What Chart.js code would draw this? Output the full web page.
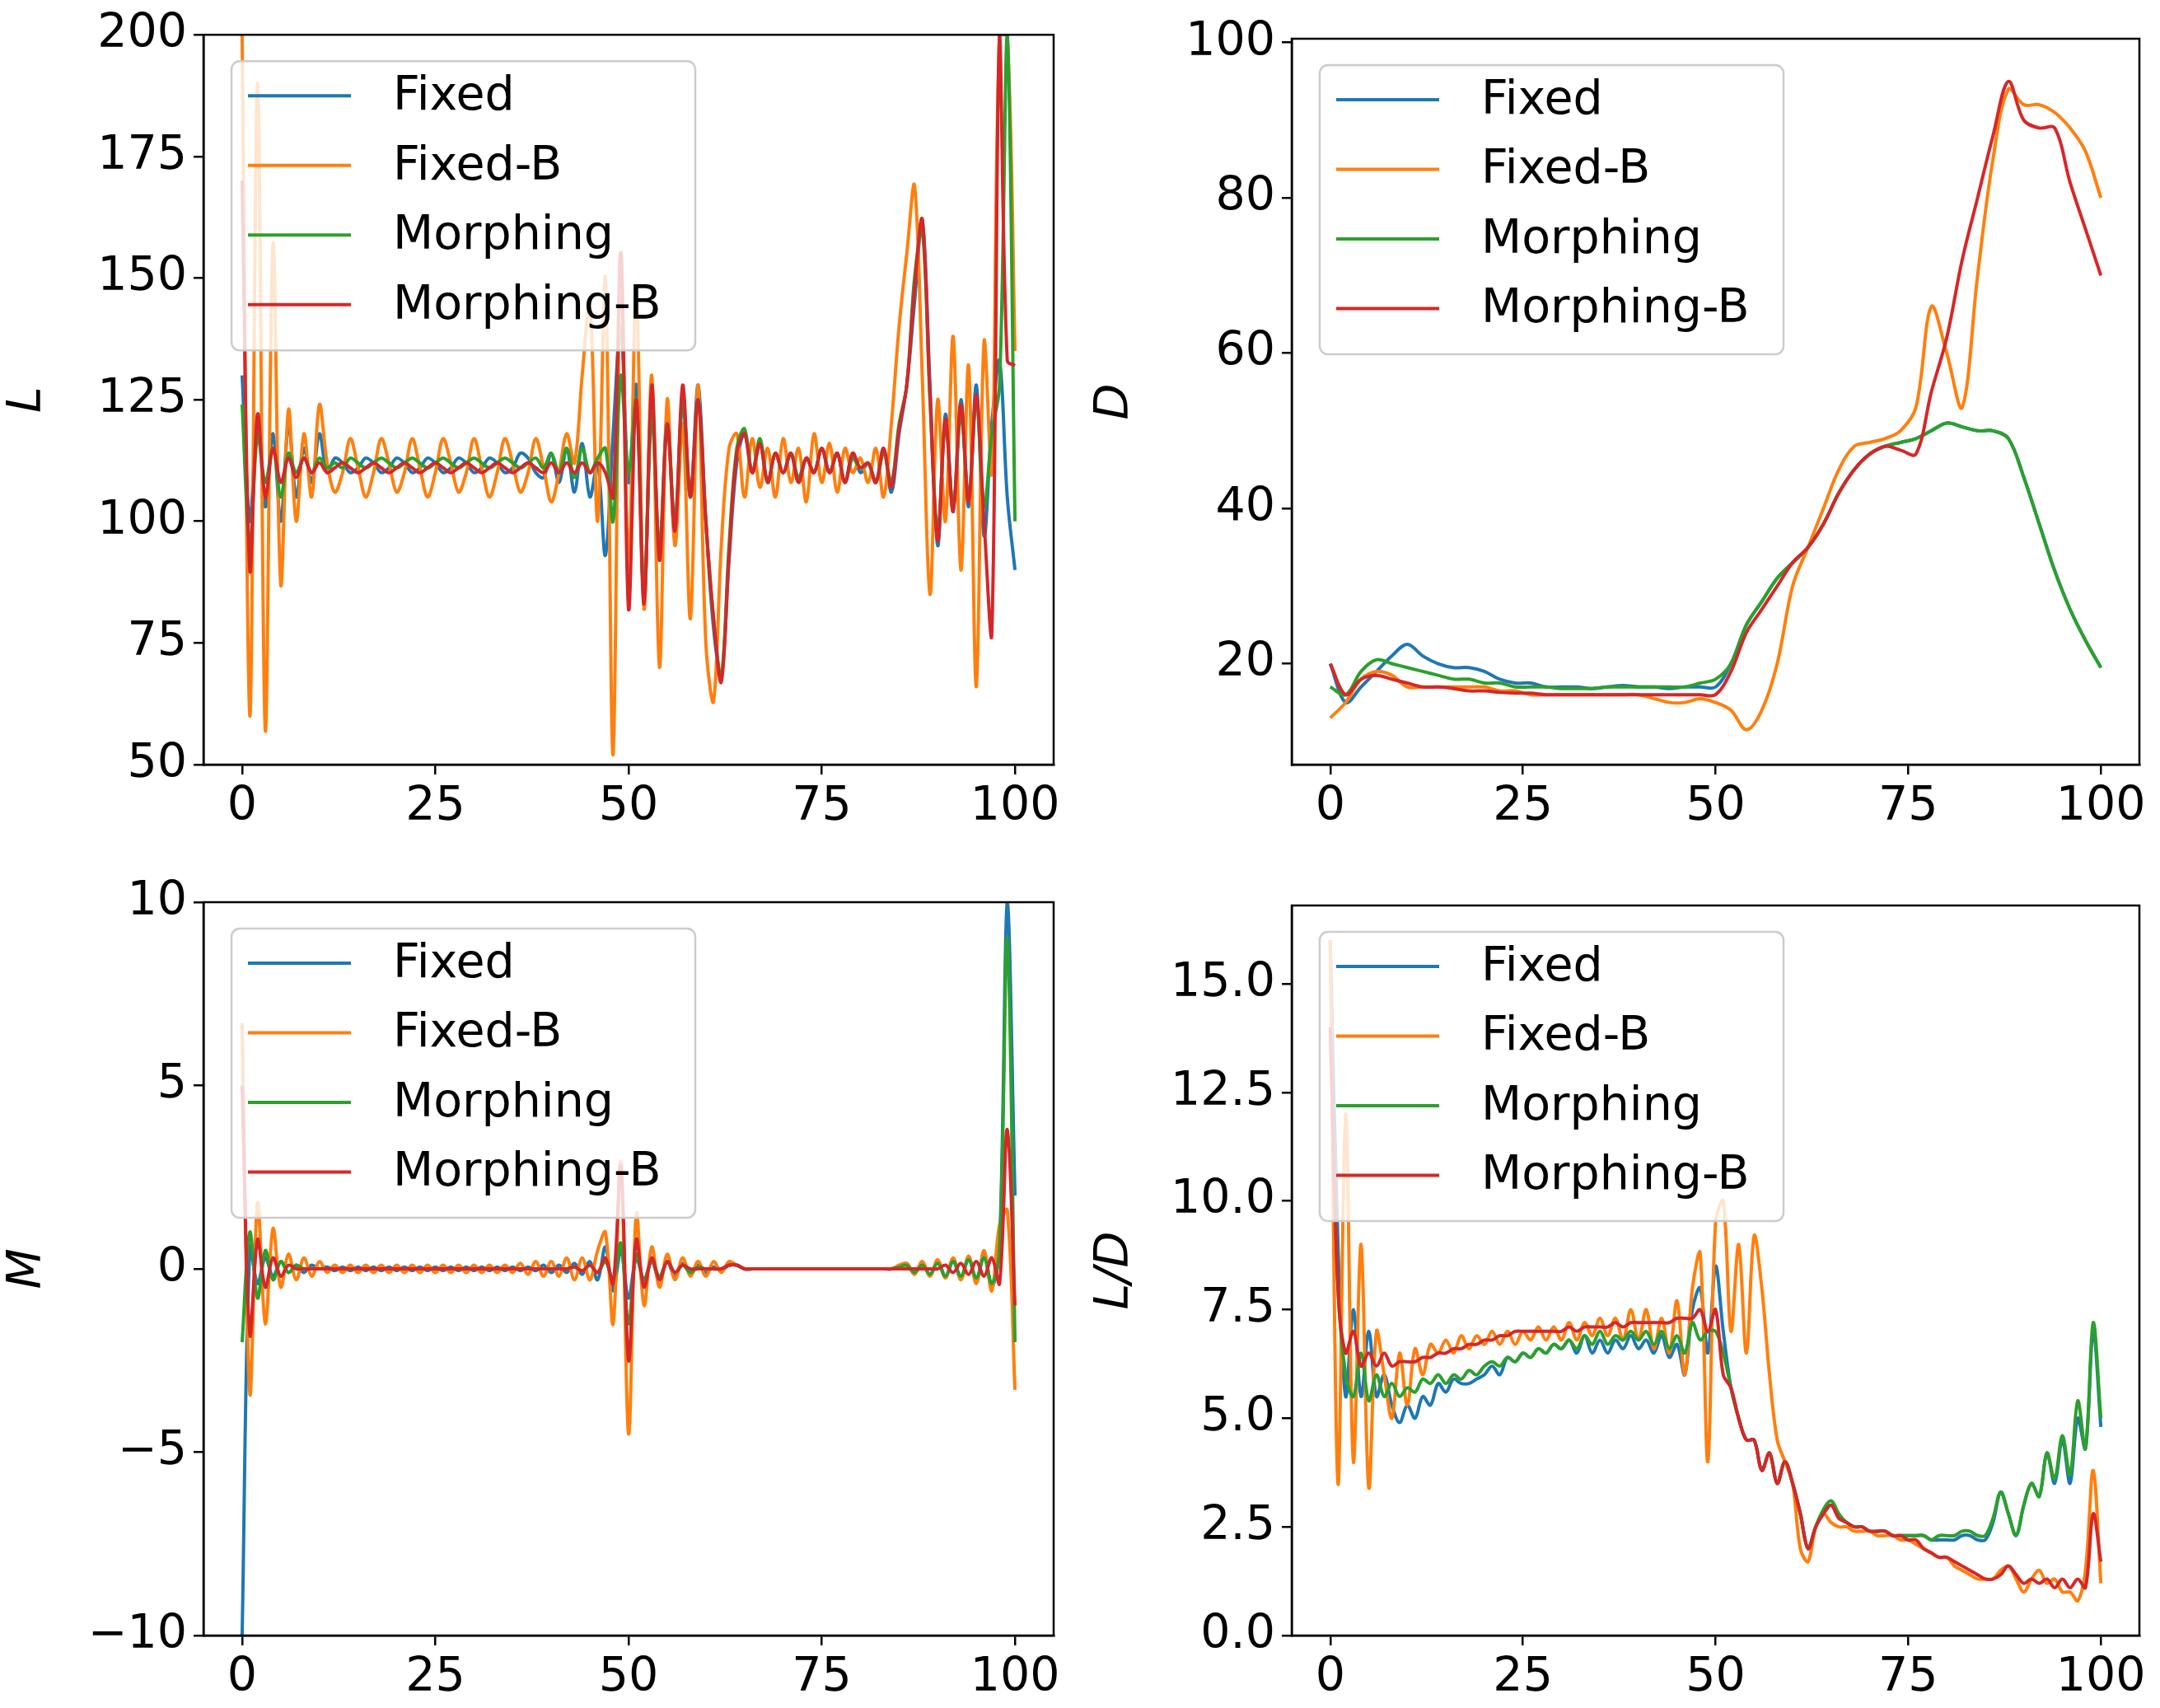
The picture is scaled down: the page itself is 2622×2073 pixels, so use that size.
<!DOCTYPE html>
<html><head><meta charset="utf-8">
<script src="https://cdn.jsdelivr.net/npm/chart.js@4"></script>
<style>body{margin:0;background:#fff;width:2622px;height:2073px;position:relative;overflow:hidden}canvas{position:absolute}</style>
</head><body>
<canvas id="c1"></canvas><canvas id="c2"></canvas><canvas id="c3"></canvas><canvas id="c4"></canvas>
<script>
const labels = ["Fixed","Fixed-B","Morphing","Morphing-B"];
const colors = ["#1f77b4","#ff7f0e","#2ca02c","#d62728"];
const xStep1 = Array.from({length:101},(_,i)=>i);
const xStep2 = Array.from({length:51},(_,i)=>i*2);
const xTicks = [0,25,50,75,100];

const L_fixed=[130,100,122,103,118,100,120,105,115,108,118,
110,113,112,110,111,113,112,110,111,113,
112,110,111,113,112,110,111,113,112,110,
111,113,112,110,111,114,113,110,109,114,
108,115,106,116,105,112,93,118,140,108,
128,85,125,92,122,97,125,105,128,100,
78,68,92,112,118,110,116,108,114,110,
114,108,113,110,115,110,114,108,114,110,
112,108,115,106,118,128,145,162,128,95,
122,102,125,103,128,97,120,133,105,90];
const L_fixedB=[200,60,190,57,157,87,123,100,118,105,124,
112,106,110,117,111,105,110,117,112,106,
110,117,111,105,110,117,112,106,110,117,
111,105,110,117,112,106,110,117,111,104,
110,118,112,130,145,100,150,52,155,90,
148,82,130,70,125,95,120,80,128,75,
63,95,115,118,105,117,107,115,105,117,
108,115,104,118,108,116,106,115,110,113,
108,115,105,120,140,155,169,130,85,125,
100,138,90,132,66,137,110,200,200,135];
const L_morph=[124,95,118,108,115,105,114,110,113,110,113,
111,112,111,113,112,111,112,113,112,111,
112,113,112,111,112,113,112,111,112,113,
112,111,112,113,112,111,112,113,111,114,
110,115,109,115,110,113,115,100,130,110,
125,85,122,95,120,100,125,105,125,100,
80,68,95,115,119,110,117,108,114,110,
114,109,113,110,115,110,114,108,113,111,
112,108,114,108,120,128,150,160,125,98,
120,103,122,105,125,103,118,128,200,100];
const L_morphB=[170,90,122,105,115,108,113,109,113,110,112,
110,111,112,111,110,111,112,111,110,111,
112,111,110,111,112,111,110,111,112,111,
110,111,112,111,110,111,112,111,110,112,
110,112,110,112,110,112,110,105,155,82,
125,83,128,92,120,98,128,105,125,100,
80,67,93,114,118,110,116,108,114,110,
114,108,113,110,115,110,114,108,114,111,
112,108,115,107,119,128,148,162,126,96,
121,102,124,104,126,100,77,200,133,132];

const D_fixed=[20,15,17,19,21,22.5,21,20,19.5,19.5,19,
18,17.5,17.5,17,17,17,16.8,17,17.2,17,
17,16.8,17,17,17,20,25,28,31,33,
35,38,42,45,47,48,48.5,49,50,51,
50.5,50,50,49,44,38,32,27,23,19.5];
const D_fixedB=[13,15,18,19,18.5,17,17,17,17,17,17,
16.5,16.5,16,16,16,16,16,16,16,16,
15.5,15,15,15.5,15,14,11.5,14,20,30,
35,40,45,48,48.5,49,50,53,66,60,
53,70,85,94,92,92,91,89,86,80];
const D_morph=[17,16,19,20.5,20,19.5,19,18.5,18,18,17.5,
17.5,17,17,17,16.8,16.8,16.8,17,17,17,
17,17,17,17.5,18,20,25,28,31,33,
35,38,42,45,47,48,48.5,49,50,51,
50.5,50,50,49,44,38,32,27,23,19.5];
const D_morphB=[20,16,18,18.5,18,17.5,17,17,16.8,16.5,16.5,
16.3,16.2,16.2,16,16,16,16,16,16,16,
16,16,16,16,16,19,24,27,30,33,
35,38,42,45,47,48,47.5,47,55,62,
72,80,88,95,90,89,89,82,76,70];

const M_fixed=[-10,0.6,-0.4,0.3,-0.2,0.2,-0.1,0.1,-0.1,0.1,0,
0.05,-0.05,0.05,-0.05,0.05,-0.05,0.05,-0.05,0.05,-0.05,
0.05,-0.05,0.05,-0.05,0.05,-0.05,0.05,-0.05,0.05,-0.05,
0.05,-0.05,0.05,-0.05,0.05,-0.05,0.05,-0.05,0.1,-0.1,
0.1,-0.1,0.15,-0.15,0.2,-0.3,0.6,-0.6,0.5,-0.8,
0.3,-0.3,0.2,-0.3,0.2,-0.2,0.15,-0.1,0.1,-0.1,
0.05,-0.05,0.1,0.1,0,0,0,0,0,0,
0,0,0,0,0,0,0,0,0,0,
0,0,0,0,0.05,0.1,-0.1,0.15,-0.15,0.2,
-0.2,0.2,-0.25,0.3,-0.3,0.4,-0.5,0.6,10,2];
const M_fixedB=[6.7,-3.4,1.8,-1.5,1.1,-0.5,0.4,-0.3,0.3,-0.2,0.2,
-0.1,0.1,-0.1,0.1,-0.1,0.1,-0.1,0.1,-0.1,0.1,
-0.1,0.1,-0.1,0.1,-0.1,0.1,-0.1,0.1,-0.1,0.1,
-0.1,0.1,-0.1,0.1,-0.1,0.15,-0.15,0.2,-0.2,0.2,
-0.2,0.3,-0.3,0.3,-0.3,0.5,1.0,-1.5,2.9,-4.5,
1.5,-1.0,0.6,-0.5,0.4,-0.3,0.3,-0.2,0.2,-0.2,
0.2,-0.1,0.2,0.1,0,0,0,0,0,0,
0,0,0,0,0,0,0,0,0,0,
0,0,0,0,0.1,0.15,-0.15,0.2,-0.2,0.25,
-0.25,0.3,-0.3,0.35,-0.4,0.5,-0.6,1.2,1.6,-3.3];
const M_morph=[-2,1,-0.8,0.5,-0.3,0.2,-0.1,0.1,0,0,0,
0,0,0,0,0,0,0,0,0,0,
0,0,0,0,0,0,0,0,0,0,
0,0,0,0,0,0,0,0,0,0,
0,0,0.05,-0.05,0.1,-0.1,0.2,-0.3,0.7,-1.5,
0.4,-0.3,0.2,-0.2,0.2,-0.1,0.1,-0.1,0.05,0,
0,0,0.1,0.1,0,0,0,0,0,0,
0,0,0,0,0,0,0,0,0,0,
0,0,0,0,0.05,0.1,-0.1,0.1,-0.15,0.15,
-0.2,0.2,-0.2,0.25,-0.25,0.3,-0.4,0.5,9,-2];
const M_morphB=[5,-1.8,0.8,-0.5,0.3,-0.2,0.1,0,0,0,0,
0,0,0,0,0,0,0,0,0,0,
0,0,0,0,0,0,0,0,0,0,
0,0,0,0,0,0,0,0,0,0,
0,0,0.05,-0.05,0.1,-0.1,0.3,-0.4,2.8,-2.5,
0.8,-0.5,0.3,-0.3,0.2,-0.1,0.1,0,0,0,
0,0,0.1,0.1,0,0,0,0,0,0,
0,0,0,0,0,0,0,0,0,0,
0,0,0,0,0,0,0,0,0,0,
0.1,-0.1,0.15,-0.15,0.2,-0.2,0.3,-0.4,3.8,-1];

const LD_fixed=[16,9,5.5,7.5,5.5,7,5.5,6,5.3,4.9,5.3,
5,5.5,5.3,5.8,5.6,5.9,5.8,5.8,5.9,6,
6.2,6,6.4,6.3,6.5,6.4,6.6,6.5,6.7,6.6,
6.8,6.5,6.9,6.5,6.8,6.5,6.8,6.6,6.9,6.6,
6.8,6.5,6.9,6.4,6.7,6,7.5,8,6.5,8.5,
7,5.7,5,4.5,4.5,3.8,4.2,3.5,4,3.5,
2.8,2,2.5,2.8,3,2.7,2.6,2.5,2.5,2.4,
2.4,2.4,2.3,2.3,2.3,2.3,2.3,2.2,2.2,2.2,
2.2,2.3,2.3,2.2,2.2,2.6,3.3,2.8,2.3,3,
3.5,3.2,4.2,3.5,4.5,3.5,5,4.3,7,4.8];
const LD_fixedB=[16,3.5,12,4,9,3.4,7,6,5,6.5,5.3,
6.6,6,6.7,6.5,6.8,6.5,6.9,6.6,6.9,6.7,
7,6.7,7,6.7,7,6.8,7.1,6.8,7.1,6.8,
7.2,6.8,7.2,6.9,7.3,6.9,7.3,6.8,7.5,6.8,
7.5,6.6,7.3,6.5,7.7,6,8,8.8,4,9.5,
10,7,9,6.5,9.2,8,6,4.5,4,3.5,
2,1.7,2.5,2.8,2.6,2.5,2.5,2.4,2.4,2.4,
2.3,2.3,2.3,2.2,2.2,2.1,2,1.9,1.8,1.8,
1.6,1.5,1.4,1.3,1.3,1.3,1.5,1.6,1.3,1,
1.3,1.5,1.2,1.3,1,1,0.8,1.5,3.8,1.2];
const LD_morph=[14,8,6,5.5,6.5,5.4,6,5.5,5.8,5.5,5.7,
5.6,5.9,5.8,6,5.8,6,5.9,6.1,6,6.2,
6.3,6.2,6.4,6.3,6.5,6.4,6.6,6.5,6.7,6.6,
6.8,6.6,6.9,6.7,7,6.7,6.9,6.8,7,6.8,
7,6.7,7,6.6,6.9,6.5,7.2,6.8,7,7,
6.5,5.7,5,4.5,4.5,3.8,4.2,3.5,4,3.5,
2.8,2,2.5,2.9,3.1,2.8,2.6,2.5,2.5,2.4,
2.4,2.4,2.3,2.3,2.3,2.3,2.3,2.2,2.3,2.3,
2.3,2.4,2.4,2.3,2.3,2.7,3.3,2.8,2.3,3,
3.5,3.2,4.2,3.6,4.6,3.7,5.4,4.3,7.2,5];
const LD_morphB=[14,8,6.5,7,6.2,6.5,6.2,6.5,6.2,6.3,6.3,
6.3,6.4,6.4,6.5,6.5,6.6,6.6,6.7,6.7,6.8,
6.8,6.9,6.9,7,7,7,7,7,7,7,
7.1,7,7.1,7.1,7.1,7.1,7.2,7.1,7.2,7.2,
7.2,7.2,7.2,7.2,7.3,7.3,7.3,7.5,7,7.5,
6,5.7,5,4.5,4.5,3.8,4.2,3.5,4,3.5,
2.8,2,2.5,2.8,3,2.7,2.6,2.5,2.5,2.4,
2.4,2.4,2.3,2.3,2.2,2.2,2,1.9,1.8,1.8,
1.7,1.6,1.5,1.4,1.3,1.3,1.4,1.6,1.4,1.2,
1.3,1.2,1.3,1.1,1.3,1.1,1.3,1.1,2.8,1.7];

const L_ticks=[50,75,100,125,150,175,200];
const D_ticks=[20,40,60,80,100];
const M_ticks=[-10,-5,0,5,10];
const LD_ticks=[0,2.5,5,7.5,10,12.5,15];

const FONT = "'DejaVu Sans'";
const FS = 57;

const framePlugin = {
  id:'frame',
  afterDraw(chart){
    const {ctx, chartArea:a} = chart;
    ctx.save();
    ctx.strokeStyle='#000'; ctx.lineWidth=2.5;
    ctx.strokeRect(a.left,a.top,a.right-a.left,a.bottom-a.top);
    const bx=a.left+34, by=a.top+32, bw=563, bh=351, r=10;
    ctx.fillStyle='rgba(255,255,255,0.8)'; ctx.strokeStyle='#cccccc'; ctx.lineWidth=2.5;
    ctx.beginPath(); ctx.roundRect(bx,by,bw,bh,r); ctx.fill(); ctx.stroke();
    ctx.font = FS+'px '+FONT; ctx.textBaseline='middle'; ctx.textAlign='left';
    chart.data.datasets.forEach((ds,i)=>{
      const y = by+42+i*84.5;
      ctx.strokeStyle=ds.borderColor; ctx.lineWidth=4;
      ctx.beginPath(); ctx.moveTo(bx+20,y); ctx.lineTo(bx+145,y); ctx.stroke();
      ctx.fillStyle='#000'; ctx.fillText(ds.label,bx+196,y+2);
    });
    ctx.restore();
  }
};

function makeChart(id, box, plot, xs, series, yMin, yMax, yTicks, yTitle, fmt){
  const cv=document.getElementById(id);
  cv.style.left=box.l+'px'; cv.style.top=box.t+'px';
  cv.width=box.r-box.l; cv.height=box.b-box.t;
  cv.style.width=(box.r-box.l)+'px'; cv.style.height=(box.b-box.t)+'px';
  new Chart(cv,{
    type:'line',
    data:{datasets:series.map((s,i)=>({label:labels[i],data:xs.map((x,j)=>({x:x,y:s[j]})),
      order:3-i,borderColor:colors[i],borderWidth:4,pointRadius:0,tension:0.35,fill:false}))},
    options:{
      responsive:false, maintainAspectRatio:false, animation:false, devicePixelRatio:1,
      layout:{padding:{left:0,right:box.r-plot.r,top:plot.t-box.t,bottom:0}},
      plugins:{legend:{display:false},tooltip:{enabled:false}},
      scales:{
        x:{type:'linear',min:-5,max:105,
          afterBuildTicks:s=>{s.ticks=xTicks.map(v=>({value:v}));},
          afterFit:s=>{s.height=box.b-plot.b;},
          grid:{drawOnChartArea:false,drawTicks:true,tickLength:12,color:'#000',lineWidth:2.5},
          border:{display:true,color:'#000',width:2.5},
          ticks:{color:'#000',font:{family:FONT,size:FS},padding:6,maxRotation:0}},
        y:{type:'linear',min:yMin,max:yMax,
          afterBuildTicks:s=>{s.ticks=yTicks.map(v=>({value:v}));},
          afterFit:s=>{s.width=plot.l-box.l;},
          grid:{drawOnChartArea:false,drawTicks:true,tickLength:12,color:'#000',lineWidth:2.5},
          border:{display:true,color:'#000',width:2.5},
          title:{display:true,text:yTitle,color:'#000',font:{family:FONT,size:FS,style:'italic'},padding:{top:0,bottom:10}},
          ticks:{color:'#000',font:{family:FONT,size:FS},padding:8,callback:fmt}}
      }
    },
    plugins:[framePlugin]
  });
}
const minus=v=>(v<0?'\u2212'+Math.abs(v):String(v));
const f1=v=>v.toFixed(1);

makeChart('c1',{l:0,t:0,r:1330,b:1040},{l:247,t:42,r:1279,b:928},xStep1,[L_fixed,L_fixedB,L_morph,L_morphB],50,200,L_ticks,'L',minus);
makeChart('c2',{l:1320,t:0,r:2622,b:1040},{l:1568,t:47,r:2597,b:928},xStep2,[D_fixed,D_fixedB,D_morph,D_morphB],7,100.5,D_ticks,'D',minus);
makeChart('c3',{l:0,t:1040,r:1330,b:2073},{l:247,t:1095,r:1279,b:1985},xStep1,[M_fixed,M_fixedB,M_morph,M_morphB],-10,10,M_ticks,'M',minus);
makeChart('c4',{l:1320,t:1040,r:2622,b:2073},{l:1568,t:1099,r:2597,b:1985},xStep1,[LD_fixed,LD_fixedB,LD_morph,LD_morphB],0,16.8,LD_ticks,'L/D',f1);
</script></body></html>
